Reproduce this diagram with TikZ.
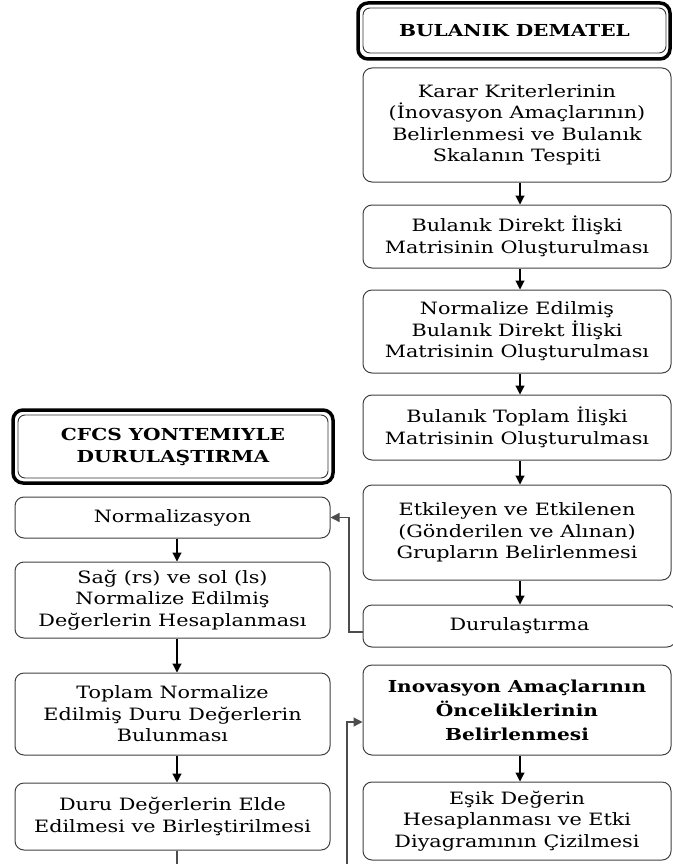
\documentclass[tikz,border=0pt]{standalone}
\usepackage{fontspec}
\setmainfont{DejaVu Serif}[FakeStretch=1.22]
\usetikzlibrary{arrows.meta}
\tikzset{
  box/.style={draw=black!75, line width=1pt, rounded corners=9pt, align=center,
    inner sep=0pt, font=\fontsize{17}{21.5}\selectfont},
  rbox/.style={box, minimum width=308pt},
  lbox/.style={box, minimum width=315pt},
  tinner/.style={draw=black!80, line width=0.9pt, rounded corners=7pt, align=center,
    inner sep=0pt, font=\fontsize{16.5}{22}\selectfont\bfseries},
  touter/.style={draw=black, line width=3.5pt, rounded corners=10pt},
  arr/.style={draw=black, line width=1.1pt, -{Triangle[length=9pt,width=9pt]}},
  link/.style={draw=black!70, line width=1.3pt, -{Triangle[length=9pt,width=9pt]}}
}
\begin{document}
\begin{tikzpicture}[x=1pt,y=-1pt]
\useasboundingbox (0,0) rectangle (672,864);
% right column
\node[tinner, minimum width=303pt, minimum height=45pt] (t1) at (514.5,30.5) {BULANIK DEMATEL};
\draw[touter] (358,3) rectangle (670,59);
\node[rbox, minimum height=114pt] (r1) at (517,125) {Karar Kriterlerinin\\(İnovasyon Amaçlarının)\\Belirlenmesi ve Bulanık\\Skalanın Tespiti};
\node[rbox, minimum height=63pt] (r2) at (517,236.5) {Bulanık Direkt İlişki\\Matrisinin Oluşturulması};
\node[rbox, minimum height=83pt] (r3) at (517,331.5) {Normalize Edilmiş\\Bulanık Direkt İlişki\\Matrisinin Oluşturulması};
\node[rbox, minimum height=65pt] (r4) at (517,427.5) {Bulanık Toplam İlişki\\Matrisinin Oluşturulması};
\node[rbox, minimum height=95pt] (r5) at (517,532.5) {Etkileyen ve Etkilenen\\(Gönderilen ve Alınan)\\Grupların Belirlenmesi};
\node[box, minimum width=313pt, minimum height=42pt] (r6) at (519.5,626) {Durulaştırma};
\node[rbox, minimum height=90pt, font=\fontsize{16.5}{24}\selectfont\bfseries] (r7) at (517,710) {Inovasyon Amaçlarının\\Önceliklerinin\\Belirlenmesi};
\node[rbox, minimum height=78pt] (r8) at (517,821) {Eşik Değerin\\Hesaplanması ve Etki\\Diyagramının Çizilmesi};
% left column
\node[tinner, minimum width=310pt, minimum height=63pt] (t2) at (173,446.5) {CFCS YONTEMIYLE\\DURULAŞTIRMA};
\draw[touter] (13,410) rectangle (333,483);
\node[lbox, minimum height=41pt] (l1) at (172.5,517.5) {Normalizasyon};
\node[lbox, minimum height=76pt] (l2) at (172.5,600) {Sağ (rs) ve sol (ls)\\Normalize Edilmiş\\Değerlerin Hesaplanması};
\node[lbox, minimum height=82pt] (l3) at (172.5,714) {Toplam Normalize\\Edilmiş Duru Değerlerin\\Bulunması};
\node[lbox, minimum height=67pt] (l4) at (172.5,816.5) {Duru Değerlerin Elde\\Edilmesi ve Birleştirilmesi};
% arrow columns
\coordinate (rx) at (520,0);
\coordinate (lx) at (177,0);
\draw[arr] (r1.south -| rx) -- (r2.north -| rx);
\draw[arr] (r2.south -| rx) -- (r3.north -| rx);
\draw[arr] (r3.south -| rx) -- (r4.north -| rx);
\draw[arr] (r4.south -| rx) -- (r5.north -| rx);
\draw[arr] (r5.south -| rx) -- (r6.north -| rx);
\draw[arr] (r7.south -| rx) -- (r8.north -| rx);
\draw[arr] (l1.south -| lx) -- (l2.north -| lx);
\draw[arr] (l2.south -| lx) -- (l3.north -| lx);
\draw[arr] (l3.south -| lx) -- (l4.north -| lx);
% cross links
\coordinate (j1) at (349,517.5);
\draw[link] ([yshift=-6pt]r6.west) -| (j1) -- (l1.east);
\coordinate (j3) at (347,868);
\draw[link] (l4.south -| lx) |- (j3) |- ([yshift=-12pt]r7.west);
\end{tikzpicture}
\end{document}
